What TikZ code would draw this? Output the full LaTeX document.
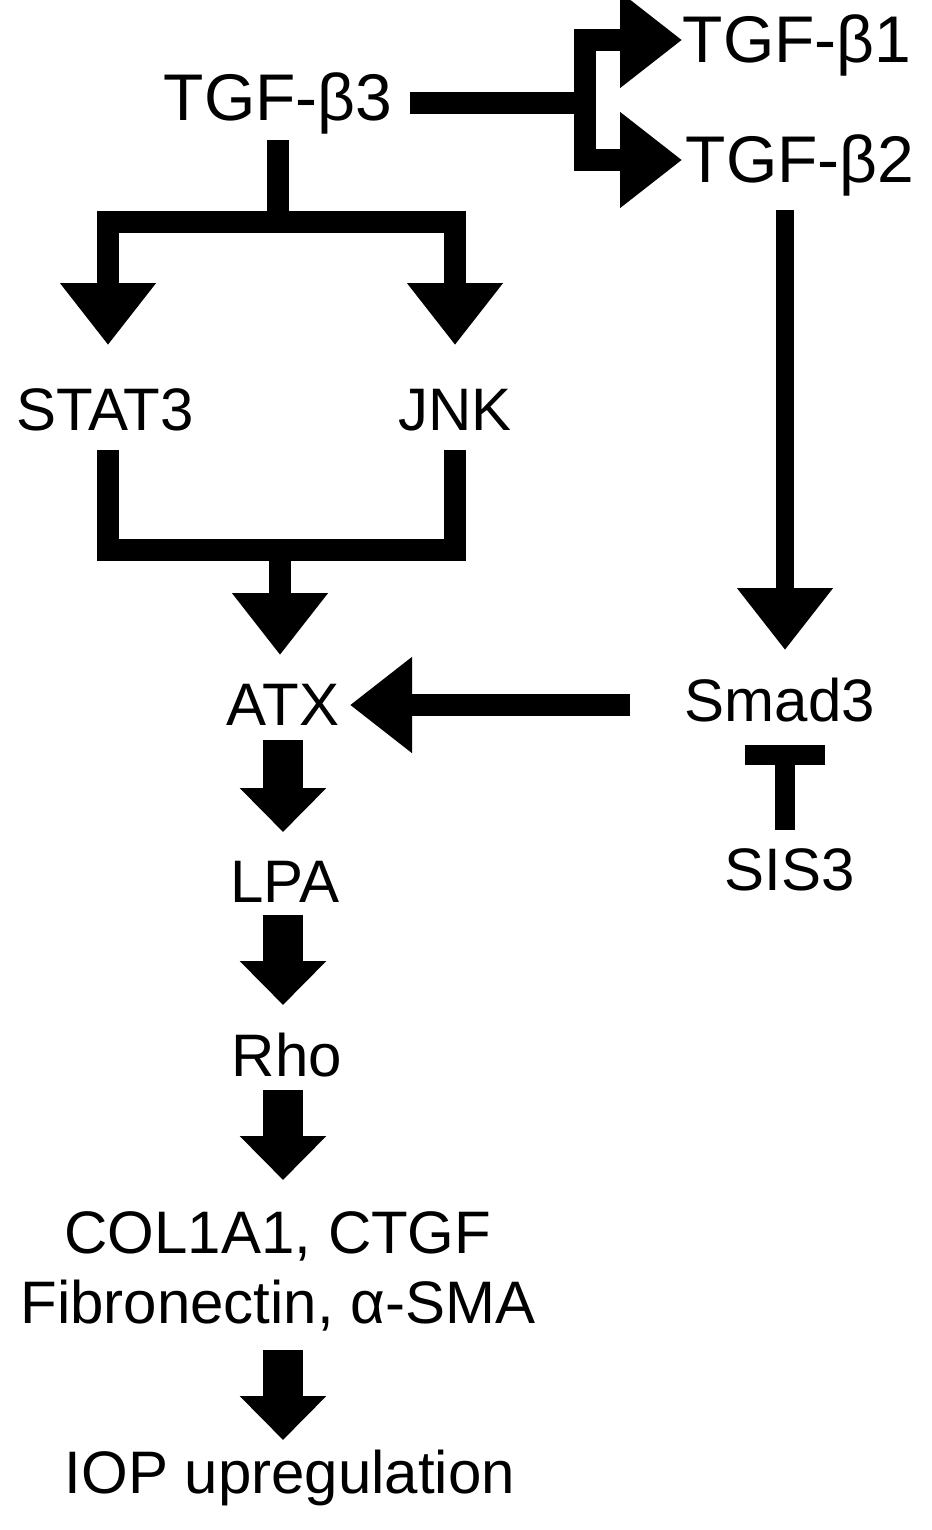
\documentclass[tikz,border=0pt]{standalone}
\usepackage{fontspec}
\setmainfont{Liberation Sans}
\usetikzlibrary{arrows.meta}
\begin{document}
\begin{tikzpicture}[x=0.5pt,y=-0.5pt,
  big/.style={font=\fontsize{33}{36}\selectfont,inner sep=0pt},
  lab/.style={font=\fontsize{30}{33}\selectfont,inner sep=0pt},
  thick arrow/.style={line width=11pt,-{Triangle[length=31pt,width=46pt]}},
  stem arrow/.style={line width=20pt,-{Triangle[length=22pt,width=42pt]}},
  bar/.style={line width=11pt}]
\useasboundingbox (0,0) rectangle (931,1530);
\node[big] (t3) at (278,103) {TGF-β3};
\node[big] (t1) at (797,45) {TGF-β1};
\node[big] (t2) at (800,165) {TGF-β2};
\node[lab] (stat) at (105,410) {STAT3};
\node[lab] (jnk) at (455,410) {JNK};
\node[lab] (atx) at (283,705) {ATX};
\node[lab] (smad) at (780,700) {Smad3};
\node[lab] (sis) at (790,870) {SIS3};
\node[lab] (lpa) at (285,882) {LPA};
\node[lab] (rho) at (287,1055) {Rho};
\node[lab,align=center] (col) at (278,1271) {COL1A1, CTGF\\[2pt]Fibronectin, α-SMA};
\node[lab] (iop) at (290,1478) {IOP upregulation};
\coordinate (r0) at (410,103); \coordinate (rj) at (585,103);
\coordinate (rjt) at (585,40); \coordinate (rjb) at (585,160);
\coordinate (t1w) at (682,40); \coordinate (t2w) at (682,160);
\coordinate (d0) at (278,140); \coordinate (dj) at (278,222);
\coordinate (dl) at (108,222); \coordinate (dr) at (455,222);
\coordinate (sh) at (108,345); \coordinate (jh) at (455,345);
\coordinate (sa) at (108,450); \coordinate (ja) at (455,450);
\coordinate (sb) at (108,550); \coordinate (jb) at (455,550);
\coordinate (mj) at (280,550); \coordinate (mh) at (280,655);
\coordinate (g0) at (785,210); \coordinate (gh) at (785,650);
\coordinate (s0) at (630,705); \coordinate (sh2) at (350,705);
\coordinate (i0) at (785,830); \coordinate (ih) at (785,745);
\draw[bar,line join=miter] (r0) -- (rj);
\draw[thick arrow,line join=miter] (rj) -- (rjt) -- (t1w);
\draw[thick arrow,line join=miter] (rj) -- (rjb) -- (t2w);
\draw[bar] (d0) -- (dj);
\draw[thick arrow,line join=miter] (dj) -- (dl) -- (sh);
\draw[thick arrow,line join=miter] (dj) -- (dr) -- (jh);
\draw[bar,line join=miter] (sa) -- (sb) -- (jb) -- (ja);
\draw[thick arrow] (mj) -- (mh);
\draw[line width=9pt,-{Triangle[length=31pt,width=46pt]}] (g0) -- (gh);
\draw[thick arrow] (s0) -- (sh2);
\draw[line width=10pt,-{Bar[width=40pt,line width=10pt]}] (i0) -- (ih);
\coordinate (a1) at (283,740); \coordinate (a2) at (283,832);
\coordinate (b1) at (283,915); \coordinate (b2) at (283,1005);
\coordinate (c1) at (283,1090); \coordinate (c2) at (283,1180);
\coordinate (e1) at (283,1350); \coordinate (e2) at (283,1440);
\draw[stem arrow] (a1) -- (a2);
\draw[stem arrow] (b1) -- (b2);
\draw[stem arrow] (c1) -- (c2);
\draw[stem arrow] (e1) -- (e2);
\end{tikzpicture}
\end{document}
